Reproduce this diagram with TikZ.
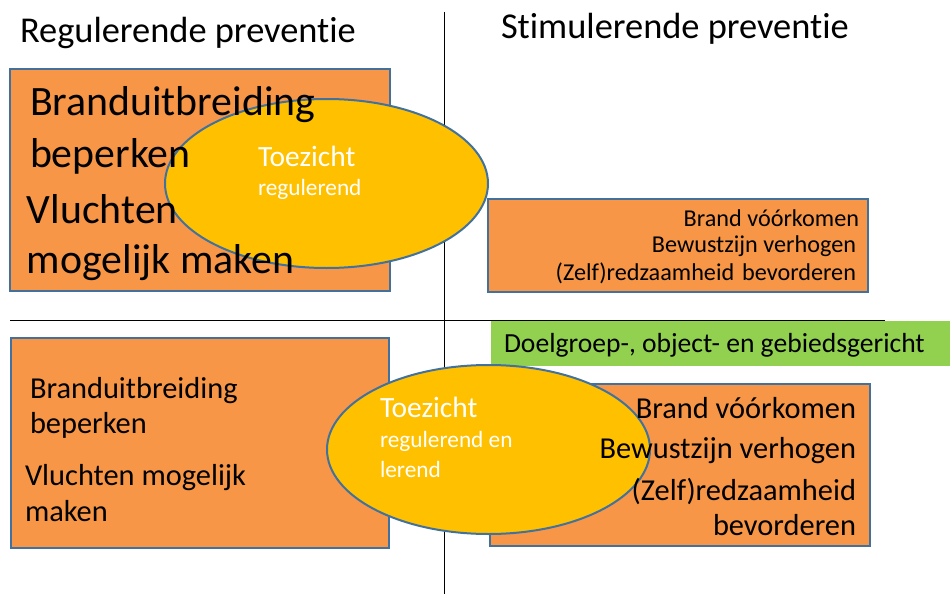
\documentclass[tikz,border=0pt]{standalone}
\usepackage{fontspec}
\setmainfont[Ligatures=NoCommon]{Carlito}
\usetikzlibrary{shapes.geometric}
\definecolor{boxfill}{HTML}{F79646}
\definecolor{boxline}{HTML}{41719C}
\definecolor{ellfill}{HTML}{FFC000}
\definecolor{greenfill}{HTML}{92D050}
\tikzset{
  box/.style={rectangle, draw=boxline, fill=boxfill, line width=2pt, inner sep=0pt, outer sep=0pt},
  oval/.style={ellipse, draw=boxline, fill=ellfill, line width=2pt, inner sep=0pt, outer sep=0pt, minimum width=323pt, minimum height=169pt},
  lbl/.style={inner sep=0pt, outer sep=0pt, text=black},
  wlbl/.style={inner sep=0pt, outer sep=0pt, text=white},
  fs41/.style={font=\fontsize{41.8}{41.8}\selectfont},
  fs36/.style={font=\fontsize{36.4}{36.4}\selectfont},
  fs30/.style={font=\fontsize{30.4}{30.4}\selectfont},
  fs29/.style={font=\fontsize{29.4}{29.4}\selectfont},
  fs27/.style={font=\fontsize{27.6}{27.6}\selectfont},
  fs24/.style={font=\fontsize{24.2}{24.2}\selectfont},
  fs23/.style={font=\fontsize{23.3}{23.3}\selectfont},
  divider/.style={draw=black, line width=1pt}
}
\begin{document}
\begin{tikzpicture}[x=1pt,y=-1pt]
\useasboundingbox (0,0) rectangle (950,594);
% dividers
\coordinate (vtop) at (444,12);
\coordinate (vbot) at (444,594);
\coordinate (hleft) at (10,320);
\coordinate (hright) at (885,320);
\draw[divider] (vtop) -- (vbot);
\draw[divider] (hleft) -- (hright);
% titles
\node[lbl, fs36, anchor=base west] (title1) at (20,43) {Regulerende preventie};
\node[lbl, fs36, anchor=base west] (title2) at (501,39) {Stimulerende preventie};
% upper left quadrant
\node[box, minimum width=380pt, minimum height=222pt] (ulbox) at (200,180) {};
\node[oval] (ulell) at (326.5,183.5) {};
\node[lbl, fs41, anchor=base west] (ul1) at (30,115) {Branduitbreiding};
\node[lbl, fs41, anchor=base west] (ul2) at (30,167) {beperken};
\node[lbl, fs41, anchor=base west] (ul3) at (27,223) {Vluchten};
\node[lbl, fs41, anchor=base west] (ul4) at (27,273) {mogelijk maken};
\node[wlbl, fs29, anchor=base west] (ue1) at (258,166) {Toezicht};
\node[wlbl, fs23, anchor=base west] (ue2) at (258,195) {regulerend};
% upper right quadrant
\node[box, minimum width=380pt, minimum height=93pt] (urbox) at (678,245.5) {};
\node[lbl, fs24, anchor=base east] (ur1) at (859,226) {Brand vóórkomen};
\node[lbl, fs24, anchor=base east] (ur2) at (856,252) {Bewustzijn verhogen};
\node[lbl, fs24, anchor=base east] (ur3) at (856,280) {(Zelf)redzaamheid\hspace{0.1em} bevorderen};
% green banner
\node[rectangle, fill=greenfill, draw=none, inner sep=0pt, outer sep=0pt, minimum width=459pt, minimum height=45pt] (green) at (720.5,343.5) {};
\node[lbl, fs27, anchor=base west] (gtext) at (504,352) {Doelgroep-, object- en gebiedsgericht};
% lower quadrants
\node[box, minimum width=378pt, minimum height=210pt] (llbox) at (200,443) {};
\node[box, minimum width=380pt, minimum height=162pt] (lrbox) at (680,465) {};
\node[oval] (lell) at (488.5,449.5) {};
\node[lbl, fs30, anchor=base west] (ll1) at (30,398) {Branduitbreiding};
\node[lbl, fs30, anchor=base west] (ll2) at (30,433) {beperken};
\node[lbl, fs30, anchor=base west] (ll3) at (25,485) {Vluchten mogelijk};
\node[lbl, fs30, anchor=base west] (ll4) at (25,521) {maken};
\node[wlbl, fs29, anchor=base west] (le1) at (380,417) {Toezicht};
\node[wlbl, fs23, anchor=base west] (le2) at (380,447) {regulerend en};
\node[wlbl, fs23, anchor=base west] (le3) at (380,477) {lerend};
\node[lbl, fs30, anchor=base east] (lr1) at (856,418) {Brand vóórkomen};
\node[lbl, fs30, anchor=base east] (lr2) at (856,458) {Bewustzijn verhogen};
\node[lbl, fs30, anchor=base east] (lr3) at (856,500) {(Zelf)redzaamheid};
\node[lbl, fs30, anchor=base east] (lr4) at (856,535) {bevorderen};
\end{tikzpicture}
\end{document}
